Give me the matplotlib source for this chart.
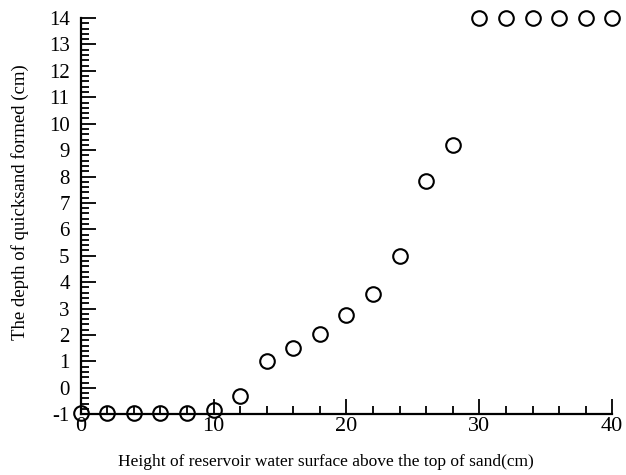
import matplotlib
matplotlib.use("Agg")
import matplotlib.pyplot as plt
from matplotlib.ticker import MultipleLocator

# reservoir height above sand top (cm) vs depth of quicksand formed (cm)
height = [0, 2, 4, 6, 8, 10, 12, 14, 16, 18, 20, 22, 24, 26, 28, 30, 32, 34, 36, 38, 40]
depth = [-0.95, -0.95, -0.95, -0.95, -0.95, -0.85, -0.32, 1.0, 1.5, 2.03, 2.75, 3.55,
         5.0, 7.83, 9.19, 14, 14, 14, 14, 14, 14]

plt.rcParams["font.family"] = ["Liberation Serif", "DejaVu Serif"]
plt.rcParams["axes.unicode_minus"] = False

fig = plt.figure(figsize=(6.26, 4.75), dpi=100)
ax = fig.add_axes([0.129, 0.128, 0.849, 0.834])

ax.plot(height, depth, linestyle="none", marker="o", markersize=10.5,
        markerfacecolor="none", markeredgecolor="black", markeredgewidth=1.5,
        clip_on=False, zorder=3)

ax.set_xlim(0, 40)
ax.set_ylim(-1, 14)
ax.xaxis.set_major_locator(MultipleLocator(10))
ax.xaxis.set_minor_locator(MultipleLocator(2))
ax.yaxis.set_major_locator(MultipleLocator(1))
ax.yaxis.set_minor_locator(MultipleLocator(0.2))

for side in ("top", "right"):
    ax.spines[side].set_visible(False)
for side in ("left", "bottom"):
    ax.spines[side].set_linewidth(1.6)

ax.tick_params(which="both", direction="in", width=1.3)
ax.tick_params(which="major", length=11)
ax.tick_params(which="minor", length=5.5)
ax.tick_params(axis="x", which="major", labelsize=16, pad=2)
ax.tick_params(axis="y", which="major", labelsize=15, pad=8)

ax.set_xlabel("Height of reservoir water surface above the top of sand(cm)", fontsize=12.5)
ax.set_ylabel("The depth of quicksand formed (cm)", fontsize=13.5)
ax.xaxis.set_label_coords(0.461, -0.1)
ax.yaxis.set_label_coords(-0.098, 0.535)

fig.savefig("out.png", dpi=100)
